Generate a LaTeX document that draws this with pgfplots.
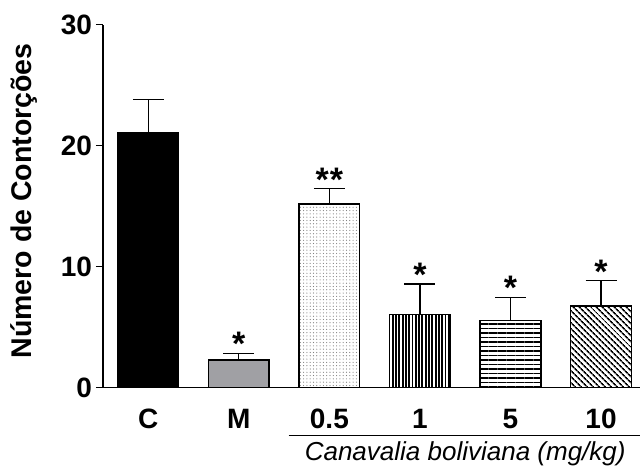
\documentclass[border=0pt]{standalone}
\usepackage{pgfplots}
\pgfplotsset{compat=1.18}
\usepackage{fontspec}
\setmainfont{Liberation Sans}
\usetikzlibrary{patterns,patterns.meta}
\definecolor{mgray}{RGB}{160,160,164}
\begin{document}
\begin{tikzpicture}[x=1pt,y=1pt]
\path[use as bounding box] (-103,-80.3) rectangle (537,387.7);
\begin{axis}[
  at={(0,0)}, anchor=south west,
  scale only axis, width=537pt, height=363pt,
  xmin=-0.5, xmax=5.43, ymin=0, ymax=30,
  axis x line=bottom, axis y line=left,
  axis line style={-, line width=1.5pt},
  ybar, bar shift=0pt, bar width=0.67,
  xtick={0,1,2,3,4,5},
  xticklabels={C,M,0.5,1,5,10},
  xtick style={draw=none},
  ytick={0,10,20,30},
  ytick style={line width=1.5pt, black},
  tick align=outside, major tick length=7pt,
  /pgf/number format/assume math mode=true,
  ticklabel style={font=\fontsize{28}{28}\selectfont\bfseries},
  xticklabel style={yshift=-11pt},
  yticklabel style={xshift=-0.5pt},
  clip=false,
  error bars/y dir=plus, error bars/y explicit,
  error bars/error bar style={line width=1.3pt, black},
  error bars/error mark options={rotate=90, line width=1.3pt, mark size=15.5pt, black},
]
\addplot[draw=black, line width=1.5pt, fill=black] coordinates {(0,21.1) +- (0,2.7)};
\addplot[draw=black, line width=1.5pt, fill=mgray] coordinates {(1,2.3) +- (0,0.5)};
\addplot[draw=black, line width=1.5pt, pattern={Dots[distance=3.3pt, radius=0.6pt]}, pattern color=gray] coordinates {(2,15.2) +- (0,1.25)};
\addplot[draw=black, line width=1.5pt, pattern={Lines[angle=90, distance=3.3pt, line width=1.9pt]}] coordinates {(3,6.07) +- (0,2.5)};
\addplot[draw=black, line width=1.5pt, pattern={Lines[angle=0, distance=4.5pt, line width=1.6pt]}] coordinates {(4,5.54) +- (0,1.93)};
\addplot[draw=black, line width=1.5pt, pattern={Lines[angle=-45, distance=4pt, line width=1.6pt]}] coordinates {(5,6.75) +- (0,2.09)};
\begin{scope}[every node/.style={font=\fontsize{34}{34}\selectfont\bfseries, inner sep=0pt, anchor=north}]
\node at ([yshift=22pt]axis cs:1,2.8) {*};
\node at ([yshift=21pt]axis cs:2,16.45) {*\kern1pt*};
\node at ([yshift=21pt]axis cs:3,8.57) {*};
\node at ([yshift=21pt]axis cs:4,7.47) {*};
\node at ([yshift=21pt]axis cs:5,8.84) {*};
\end{scope}
\draw[line width=1.5pt] ([yshift=-48pt]axis cs:1.55,0) -- ([yshift=-48pt]axis cs:5.43,0);
\node[font=\fontsize{26}{26}\selectfont\itshape] at ([yshift=-66pt]axis cs:3.5,0) {Canavalia boliviana (mg/kg)};
\node[rotate=90, font=\fontsize{28.5}{28.5}\selectfont\bfseries] at ([xshift=-79pt, yshift=186.7pt]axis cs:-0.5,0) {Número de Contorções};
\end{axis}
\end{tikzpicture}
\end{document}
